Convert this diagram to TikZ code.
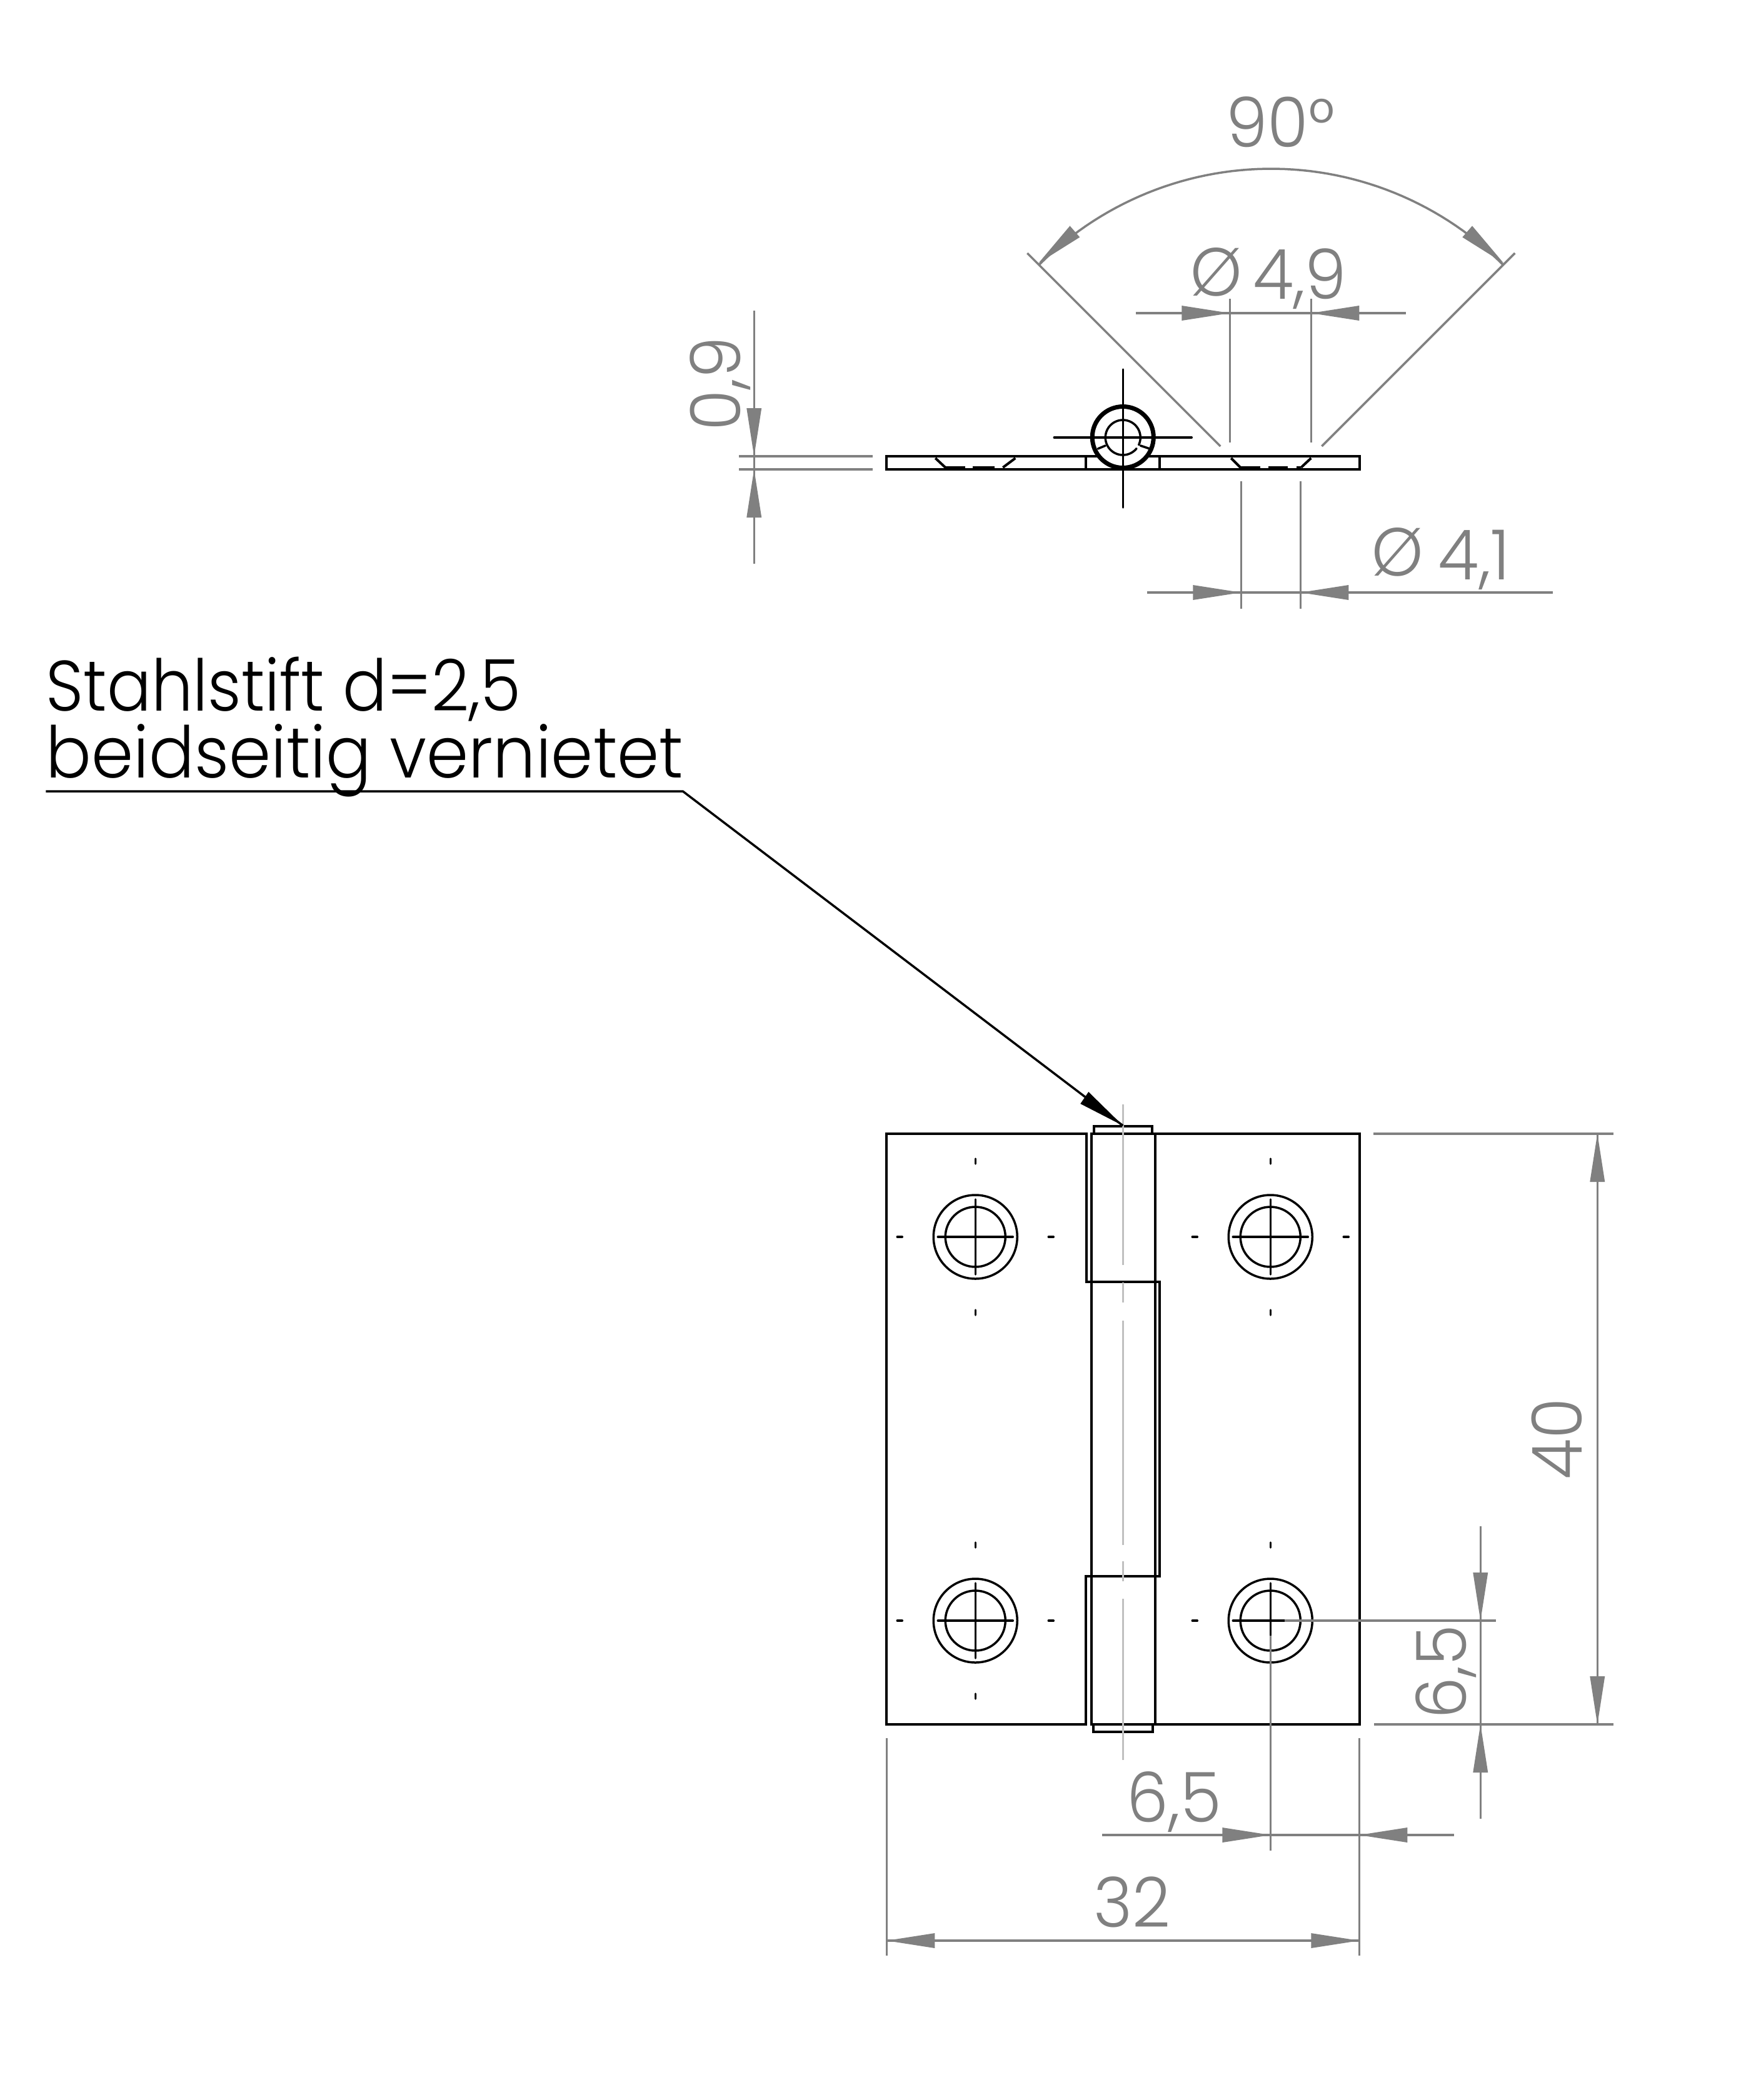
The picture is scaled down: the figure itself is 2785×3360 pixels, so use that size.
\documentclass[tikz,border=0pt]{standalone}
\usepackage{fontspec}
\newfontfamily\dimfont[FakeStretch=0.96,Kerning=Off]{Poppins Light}
\newfontfamily\labelfont[FakeStretch=0.945,Kerning=Off]{Poppins Light}
\newfontfamily\labelfontb[FakeStretch=0.92,Kerning=Off]{Poppins Light}
\definecolor{dimgray}{HTML}{808080}
\definecolor{cgray}{HTML}{C0C0C0}
\tikzset{
  part/.style={draw=black,line width=0.8mm,line join=miter},
  thinpart/.style={draw=black,line width=0.7mm,line cap=round},
  pinring/.style={draw=black,line width=1.4mm},
  dimline/.style={draw=dimgray,line width=0.7mm},
  centerl/.style={draw=cgray,line width=0.7mm},
  dimtext/.style={text=dimgray,inner sep=0pt,font=\dimfont\fontsize{63}{70}\selectfont},
  labeltext/.style={text=black,inner sep=0pt,font=\labelfont\fontsize{65}{70}\selectfont},
  labeltextb/.style={text=black,inner sep=0pt,font=\labelfontb\fontsize{65}{70}\selectfont},
  phisym/.style={text=dimgray,inner sep=0pt,font=\dimfont\fontsize{62}{62}\selectfont}
}
% tip x, tip y, visual direction from tip to base
\newcommand{\tipg}[3]{\fill[dimgray,shift={(#1,#2)},rotate=#3] (0,0)--(77,12)--(77,-12)--cycle;}
\newcommand{\hole}[2]{%
  \draw[thinpart] (#1,#2) circle[radius=13.4mm];
  \draw[thinpart] (#1,#2) circle[radius=9.6mm];
  \draw[thinpart] (#1-60,#2)--(#1+60,#2);
  \draw[thinpart] (#1,#2-60)--(#1,#2+60);
  \draw[thinpart] (#1-125,#2)--(#1-117,#2);
  \draw[thinpart] (#1+117,#2)--(#1+125,#2);
  \draw[thinpart] (#1,#2-125)--(#1,#2-117);
  \draw[thinpart] (#1,#2+117)--(#1,#2+125);
}
\begin{document}
\begin{tikzpicture}[x=0.2mm,y=-0.2mm]
\useasboundingbox (0,0) rectangle (2785,3360);
\fill[white] (0,0) rectangle (2785,3360);
\begin{scope}[xshift=0.25mm]
%% ---- end view
\draw[part] (1417,730) rectangle (2174,751);
\draw[part] (1495,733)--(1511,748);
\draw[part] (1623,733)--(1603,748);
\draw[part] (1968,733)--(1983,748);
\draw[part] (2096,733)--(2080,748);
\draw[part] (1511,748)--(1543,748) (1555,748)--(1590,748);
\draw[part] (1983,748)--(2015,748) (2028,748)--(2059,748) (2073,748)--(2080,748);
\draw[part] (1736,730)--(1736,751);
\draw[part] (1854,730)--(1854,751);
\fill[white] (1795,700) circle[radius=9.7mm];
\draw[pinring] (1795,699.5) circle[radius=9.8mm];
\draw[thinpart] plot[domain=-25:321,samples=60] ({1795+28*cos(\x)},{700-28*sin(\x)});
\draw[thinpart] (1755,718)--(1767,713);
\draw[thinpart] (1823,713)--(1838,718);
\draw[thinpart] (1685,700)--(1905,700);
\draw[thinpart] (1795,591)--(1795,812);

%% ---- plan view
\draw[part] (1417,1814)--(1737,1814)--(1737,2051)--(1854,2051)--(1854,2522)--(1736,2522)--(1736,2759)--(1417,2759)--cycle;
\draw[part] (1745,2759)--(1745,1814)--(2174,1814)--(2174,2759)--cycle;
\draw[part] (1847,1814)--(1847,2759);
\draw[part] (1749,1814)--(1749,1802)--(1842,1802)--(1842,1814);
\draw[part] (1748,2759)--(1748,2771)--(1843,2771)--(1843,2759);
\hole{1559}{1979}
\hole{2031}{1979}
\hole{1559}{2593}
\hole{2031}{2593}
\draw[centerl] (1795,1767)--(1795,2024);
\draw[centerl] (1795,2052)--(1795,2084);
\draw[centerl] (1795,2113)--(1795,2472);
\draw[centerl] (1795,2498)--(1795,2530);
\draw[centerl] (1795,2558)--(1795,2816);

%% ---- leader
\coordinate (leadstart) at (72,1266);
\coordinate (leadknee) at (1091,1266);
\coordinate (leadtip) at (1795,1801);
\draw[draw=black,line width=0.7mm] (leadstart)--(leadknee)--(leadtip);
\fill[black] (leadtip)--(1740,1747)--(1727,1766)--cycle;
\node[labeltextb,anchor=base west] (label1) at (72,1137) {Stahlstift d=2,5};
\node[labeltext,anchor=base west] (label2) at (72,1244) {beidseitig vernietet};

%% ---- dimension 90 deg
\draw[dimline] (1642,405)--(1951,714);
\draw[dimline] (2422,405)--(2113,714);
\draw[dimline] plot[domain=45:135,samples=60] ({2032+525*cos(\x)},{795-525*sin(\x)});
\tipg{1660}{421}{41}
\tipg{2404}{421}{139}
\node[dimtext,anchor=base] (d90) at (2047,235) {90°};

%% ---- dimension dia 4,9
\draw[dimline] (1966,478)--(1966,708);
\draw[dimline] (2096,478)--(2096,708);
\draw[dimline] (1816,501)--(2248,501);
\tipg{1966}{501}{180}
\tipg{2096}{501}{0}
\node[phisym,anchor=base] (phi1) at (1944,473) {Ø};
\node[dimtext,anchor=base] (d49) at (2078,478) {4,9};

%% ---- dimension dia 4,1
\draw[dimline] (1984,770)--(1984,974);
\draw[dimline] (2079,770)--(2079,974);
\draw[dimline] (1834,948)--(2483,948);
\tipg{1984}{948}{180}
\tipg{2079}{948}{0}
\node[phisym,anchor=base] (phi2) at (2234,921) {Ø};
\node[dimtext,anchor=base] (d41) at (2357,927) {4,1};

%% ---- dimension 0,9
\draw[dimline] (1181,730)--(1395,730);
\draw[dimline] (1181,751)--(1395,751);
\draw[dimline] (1205,497)--(1205,902);
\tipg{1205}{730}{90}
\tipg{1205}{751}{-90}
\node[dimtext,anchor=base,rotate=90] (d09) at (1183,614) {0,9};

%% ---- dimension 40
\draw[dimline] (2196,1814)--(2580,1814);
\draw[dimline] (2197,2759)--(2580,2759);
\draw[dimline] (2554,1814)--(2554,2759);
\tipg{2554}{1814}{-90}
\tipg{2554}{2759}{90}
\node[dimtext,anchor=base,rotate=90] (d40) at (2529,2302) {40};

%% ---- dimension 32
\draw[dimline] (1417,2781)--(1417,3129);
\draw[dimline] (2173,2781)--(2173,3129);
\draw[dimline] (1417,3105)--(2173,3105);
\tipg{1417}{3105}{0}
\tipg{2173}{3105}{180}
\node[dimtext,anchor=base] (d32) at (1810,3083) {32};

%% ---- dimension 6,5 horizontal
\draw[dimline] (2031,2617)--(2031,2961);
\draw[dimline] (1762,2936)--(2325,2936);
\tipg{2031}{2936}{180}
\tipg{2173}{2936}{0}
\node[dimtext,anchor=base] (d65h) at (1877,2915) {6,5};

%% ---- dimension 6,5 vertical
\draw[dimline] (2054,2593)--(2392,2593);
\draw[dimline] (2367,2442)--(2367,2910);
\tipg{2367}{2593}{90}
\tipg{2367}{2759}{-90}
\node[dimtext,anchor=base,rotate=90] (d65v) at (2344,2675) {6,5};
\end{scope}
\end{tikzpicture}
\end{document}
